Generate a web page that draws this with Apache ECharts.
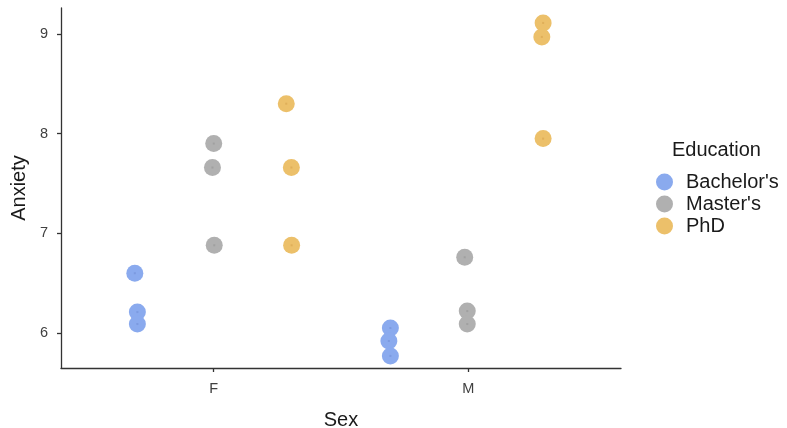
<!DOCTYPE html>
<html>
<head>
<meta charset="utf-8">
<script src="https://cdn.jsdelivr.net/npm/echarts@6/dist/echarts.min.js"></script>
<style>
  html, body { margin: 0; padding: 0; background: #fff; }
  #chart { width: 787px; height: 428px; }
</style>
</head>
<body>
<div id="chart"></div>
<script>
// Sex categories on the x axis
const sexCategories = ['F', 'M'];
const educationLevels = ["Bachelor's", "Master's", 'PhD'];

// Anxiety scores per education level, grouped by sex (index 0 = F, 1 = M)
const bachelorsAnxiety = [[6.60, 6.21, 6.09], [6.05, 5.92, 5.77]];
const mastersAnxiety   = [[7.90, 7.66, 6.88], [6.76, 6.22, 6.09]];
const phdAnxiety       = [[8.30, 7.66, 6.88], [9.11, 8.97, 7.95]];

// Horizontal jitter of each point (in category units)
const bachelorsJitter = [[-0.01, 0.0, 0.0], [-0.006, -0.012, -0.006]];
const mastersJitter   = [[0.0, -0.005, 0.002], [-0.014, -0.004, -0.004]];
const phdJitter       = [[-0.015, 0.005, 0.006], [-0.006, -0.011, -0.006]];

const yTicks = [6, 7, 8, 9];

const FONT = 'Liberation Sans, Arial, Helvetica, sans-serif';
const colors = ['#8aaaee', '#b0b0b0', '#ecc06a'];
const dotColors = ['#7896dc', '#9c9c9c', '#dcaa55'];
const dodge = [-0.3, 0, 0.3];

function buildPoints(values, jitter, k) {
  const pts = [];
  values.forEach((group, ci) => {
    group.forEach((v, i) => {
      pts.push([ci + 1 + dodge[k] + jitter[ci][i], v]);
    });
  });
  return pts;
}

const groups = [
  buildPoints(bachelorsAnxiety, bachelorsJitter, 0),
  buildPoints(mastersAnxiety, mastersJitter, 1),
  buildPoints(phdAnxiety, phdJitter, 2)
];

const series = [];
educationLevels.forEach((name, k) => {
  series.push({
    name: name,
    type: 'scatter',
    data: groups[k],
    symbol: 'circle',
    symbolSize: 17,
    itemStyle: { color: colors[k], opacity: 1 },
    emphasis: { disabled: true },
    z: 2
  });
});
// small darker centre on each point
educationLevels.forEach((name, k) => {
  series.push({
    name: name + ' centre',
    type: 'scatter',
    data: groups[k],
    symbol: 'rect',
    symbolSize: 2,
    silent: true,
    itemStyle: { color: dotColors[k] },
    z: 3
  });
});

const chart = echarts.init(document.getElementById('chart'), null, { renderer: 'canvas' });
chart.setOption({
  animation: false,
  backgroundColor: '#ffffff',
  grid: { left: 61, right: 166, top: 8, bottom: 60, containLabel: false, outerBoundsMode: 'none' },
  legend: {
    data: educationLevels.map(n => ({ name: n, icon: 'circle' })),
    orient: 'vertical',
    left: 651,
    top: 167,
    itemWidth: 17,
    itemHeight: 17,
    itemGap: 2,
    textStyle: { fontFamily: FONT, fontSize: 20, color: '#1a1a1a', padding: [0, 0, 0, 8] },
    selectedMode: false
  },
  title: {
    text: 'Education',
    left: 667,
    top: 135,
    textStyle: { fontFamily: FONT, fontSize: 20, fontWeight: 'normal', color: '#1a1a1a' }
  },
  xAxis: {
    type: 'value',
    min: 0.4,
    max: 2.6,
    splitLine: { show: false },
    axisLine: { show: true, onZero: false, lineStyle: { color: '#333', width: 1.3 } },
    axisTick: { show: true, length: 4, customValues: [1, 2], lineStyle: { color: '#333', width: 1.3 } },
    axisLabel: {
      customValues: [1, 2],
      formatter: v => sexCategories[Math.round(v) - 1] || '',
      fontFamily: FONT,
      fontSize: 14.5,
      color: '#404040',
      margin: 13
    },
    name: 'Sex',
    nameLocation: 'middle',
    nameGap: 42,
    nameTextStyle: { fontFamily: FONT, fontSize: 20, color: '#1a1a1a' }
  },
  yAxis: {
    type: 'value',
    min: 5.649,
    max: 9.26,
    splitLine: { show: false },
    axisLine: { show: true, onZero: false, lineStyle: { color: '#333', width: 1.3 } },
    axisTick: { show: true, length: 4, customValues: yTicks, lineStyle: { color: '#333', width: 1.3 } },
    axisLabel: {
      customValues: yTicks,
      fontFamily: FONT,
      fontSize: 14.5,
      color: '#404040',
      margin: 13
    },
    name: 'Anxiety',
    nameLocation: 'middle',
    nameGap: 31,
    nameRotate: 90,
    nameTextStyle: { fontFamily: FONT, fontSize: 20, color: '#1a1a1a' }
  },
  series: series
});
</script>
</body>
</html>
